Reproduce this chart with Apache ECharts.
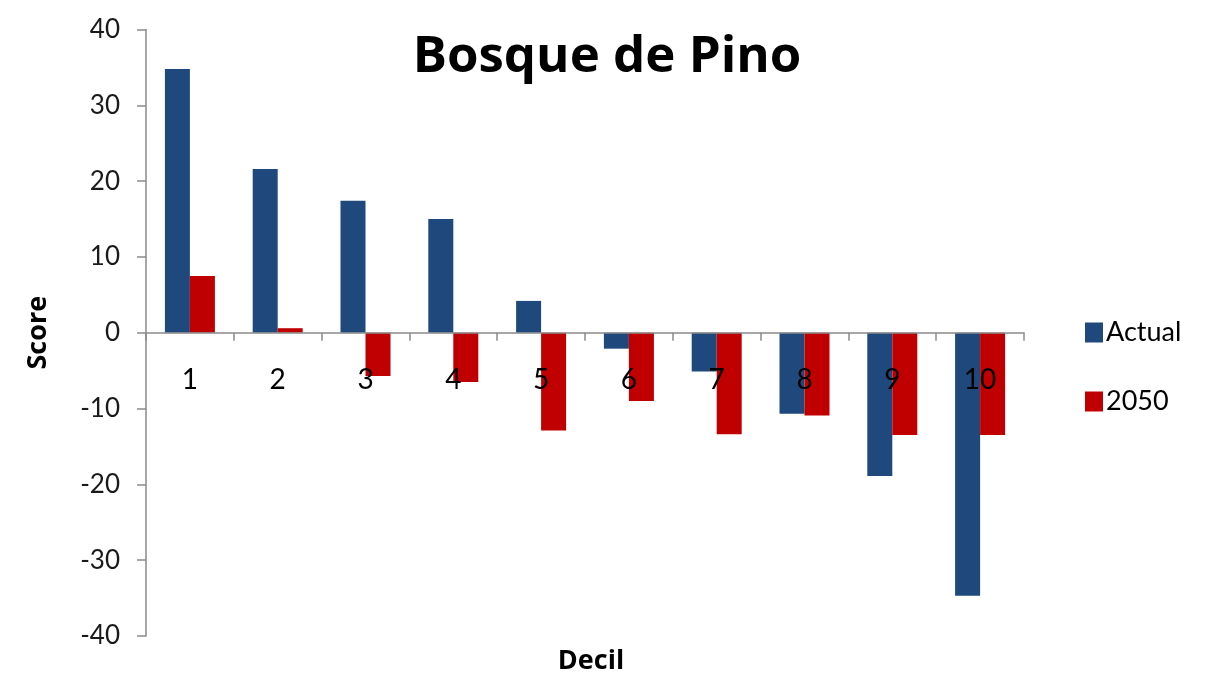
<!DOCTYPE html>
<html>
<head>
<meta charset="utf-8">
<script src="https://cdn.jsdelivr.net/npm/echarts@6/dist/echarts.min.js"></script>
<style>
  html, body { margin: 0; padding: 0; background: #ffffff; }
  #chart { width: 1230px; height: 677px; }
</style>
</head>
<body>
<div id="chart"></div>
<script>
// Decile categories and scores per scenario
const deciles = ['1', '2', '3', '4', '5', '6', '7', '8', '9', '10'];
const actualScores = [34.8, 21.6, 17.4, 15.0, 4.2, -2.1, -5.1, -10.7, -18.9, -34.7];
const scores2050 = [7.5, 0.6, -5.7, -6.5, -12.9, -9.0, -13.4, -10.9, -13.5, -13.5];
const yTicks = { min: -40, max: 40, interval: 10 };

const FONT = 'Lato, "Liberation Sans", sans-serif';
const HEAD_FONT = '"Open Sans", "DejaVu Sans", sans-serif';
const AXIS_GREY = '#8a8a8a';

const GRID_TOP = 29.5;
const GRID_BOTTOM = 41;
const CHART_H = 677;
const plotHeight = CHART_H - GRID_TOP - GRID_BOTTOM;

const chart = echarts.init(document.getElementById('chart'), null, { renderer: 'canvas' });

chart.setOption({
  backgroundColor: '#ffffff',
  animation: false,
  title: [
    {
      text: 'Bosque de Pino',
      left: 602, top: 27, textAlign: 'center',
      textStyle: { fontFamily: HEAD_FONT, fontSize: 51, fontWeight: 'bold', color: '#000000' }
    },
    {
      text: 'Decil',
      left: 586, top: 643, textAlign: 'center',
      textStyle: { fontFamily: HEAD_FONT, fontSize: 27, fontWeight: 'bold', color: '#000000' }
    }
  ],
  legend: {
    orient: 'vertical',
    left: 1080, top: 314,
    itemWidth: 18, itemHeight: 20, itemGap: 42,
    icon: 'rect',
    textStyle: { fontFamily: FONT, fontSize: 27, color: '#000000', padding: [0, 0, 0, -2] },
    data: ['Actual', '2050']
  },
  grid: { left: 146, right: 206, top: GRID_TOP, bottom: GRID_BOTTOM, outerBoundsMode: 'none', containLabel: false },
  xAxis: {
    type: 'category',
    data: deciles,
    position: 'bottom',
    z: 10,
    // the value range is symmetric, so zero sits at half the plot height
    offset: -plotHeight / 2,
    axisLine: { onZero: false, lineStyle: { color: AXIS_GREY, width: 1.5 } },
    axisTick: { show: true, length: 8, lineStyle: { color: AXIS_GREY, width: 1.5 } },
    axisLabel: { margin: 33, fontFamily: FONT, fontSize: 28, color: '#000000' },
    splitLine: { show: false }
  },
  yAxis: {
    type: 'value',
    min: yTicks.min, max: yTicks.max, interval: yTicks.interval,
    name: 'Score',
    nameLocation: 'middle',
    nameRotate: 90,
    nameGap: 94,
    nameTextStyle: { fontFamily: HEAD_FONT, fontSize: 27, fontWeight: 'bold', color: '#000000' },
    axisLine: { show: true, lineStyle: { color: AXIS_GREY, width: 1.5 } },
    axisTick: { show: true, length: 9, lineStyle: { color: AXIS_GREY, width: 1.5 } },
    axisLabel: { margin: 26, fontFamily: FONT, fontSize: 26, color: '#1a1a1a' },
    splitLine: { show: false }
  },
  series: [
    {
      name: 'Actual',
      type: 'bar',
      data: actualScores,
      barWidth: 25,
      barGap: '0%',
      itemStyle: { color: '#1F497D' }
    },
    {
      name: '2050',
      type: 'bar',
      data: scores2050,
      barWidth: 25,
      barGap: '0%',
      itemStyle: { color: '#C00000' }
    }
  ]
});
</script>
</body>
</html>
